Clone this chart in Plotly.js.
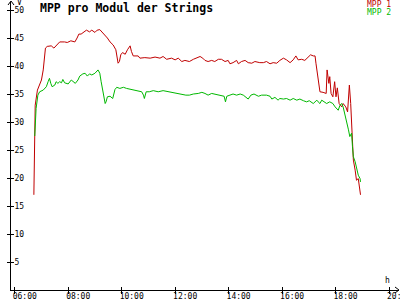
<!DOCTYPE html>
<html>
<head>
<meta charset="utf-8">
<script src="https://cdn.plot.ly/plotly-3.0.1.min.js"></script>
<style>html,body{margin:0;padding:0;background:#fff;}#chart{width:400px;height:300px;}</style>
</head>
<body>
<div id="chart"></div>
<script>
const DAY = "2024-06-01 ";
const titleText = "MPP pro Modul der Strings";
const seriesNames = ["MPP 1", "MPP 2"];
const xTickVals = ["06:00", "08:00", "10:00", "12:00", "14:00", "16:00", "18:00", "20:00"];
const yTickVals = [5, 10, 15, 20, 25, 30, 35, 40, 45, 50];

const mpp1Times = ["06:43","06:46","06:51","06:56","07:00","07:04","07:06","07:09","07:13","07:22","07:28","07:33","07:41","07:52","07:58","08:06","08:15","08:20","08:24","08:29","08:35","08:41","08:48","08:53","09:00","09:05","09:11","09:16","09:22","09:28","09:34","09:41","09:47","09:50","09:52","09:55","09:58","10:02","10:08","10:13","10:19","10:22","10:26","10:37","10:41","10:52","11:04","11:15","11:26","11:33","11:41","11:52","12:00","12:07","12:15","12:22","12:32","12:41","12:48","12:56","13:02","13:07","13:14","13:22","13:29","13:37","13:44","13:52","13:59","14:03","14:10","14:18","14:22","14:29","14:37","14:44","14:52","14:59","15:10","15:18","15:25","15:33","15:40","15:48","15:55","16:03","16:10","16:18","16:25","16:31","16:36","16:44","16:51","16:59","17:04","17:10","17:14","17:16","17:19","17:22","17:25","17:32","17:39","17:41","17:45","17:47","17:50","17:54","17:58","18:01","18:04","18:08","18:14","18:17","18:23","18:27","18:31","18:34","18:36","18:38","18:40","18:44","18:47","18:51","18:53","18:56"];
const mpp1Values = [17.0,33.0,35.7,36.9,37.5,39.3,41.1,43.2,43.5,43.6,43.2,43.6,44.3,44.3,44.2,44.5,44.3,45.0,45.7,45.7,46.1,46.4,46.1,46.4,46.0,46.4,46.5,46.1,45.5,45.0,44.3,43.75,42.9,41.7,40.5,40.8,42.0,42.4,42.1,42.9,43.6,42.6,41.8,41.8,41.4,41.5,41.4,41.6,41.4,41.7,41.2,41.4,41.1,41.4,40.8,41.0,40.8,41.2,41.4,41.7,41.4,41.0,40.8,41.0,40.8,41.2,41.2,40.8,41.0,40.4,40.6,41.0,40.4,40.8,41.0,40.6,40.5,40.8,40.6,40.6,40.8,40.4,40.6,40.5,41.0,41.4,41.1,40.6,41.1,41.8,41.1,41.2,41.0,41.6,42.0,41.8,41.8,40.5,39.0,36.9,35.4,35.3,35.1,39.3,36.9,38.1,35.1,34.5,37.2,34.5,36.1,33.3,32.7,33.3,32.7,31.8,36.6,33.3,29.8,26.2,23.2,21.4,19.6,19.9,18.4,17.0];

const mpp2Times = ["06:45","06:48","06:52","06:56","07:04","07:07","07:11","07:15","07:18","07:21","07:24","07:30","07:33","07:37","07:41","07:45","07:48","07:52","08:00","08:07","08:11","08:16","08:22","08:26","08:33","08:38","08:43","08:48","08:53","09:00","09:07","09:11","09:14","09:18","09:20","09:23","09:25","09:28","09:34","09:40","09:45","09:49","09:56","10:04","10:11","10:22","10:30","10:37","10:45","10:49","10:51","10:55","11:02","11:11","11:22","11:33","11:45","11:55","12:04","12:15","12:24","12:32","12:41","12:52","13:00","13:07","13:14","13:22","13:29","13:41","13:50","13:53","13:56","14:03","14:10","14:18","14:26","14:33","14:39","14:44","14:50","14:57","15:07","15:14","15:25","15:33","15:37","15:44","15:51","15:55","16:03","16:10","16:18","16:25","16:33","16:40","16:48","16:55","17:01","17:06","17:10","17:14","17:18","17:21","17:25","17:29","17:36","17:40","17:47","17:54","17:59","18:02","18:06","18:10","18:14","18:17","18:21","18:25","18:29","18:32","18:36","18:38","18:40","18:44","18:47","18:51","18:55","18:56"];
const mpp2Values = [27.5,32.4,34.8,35.4,35.7,36.0,36.3,37.2,37.8,36.9,36.3,36.6,37.2,36.9,37.2,37.0,37.6,37.0,36.8,37.5,37.2,36.9,37.5,38.2,38.6,38.7,38.2,38.6,38.4,38.7,39.3,38.7,37.2,35.4,33.9,33.3,33.6,34.5,34.6,34.2,35.8,36.2,36.0,36.2,36.0,35.8,35.6,35.6,35.4,34.8,34.2,35.4,35.4,35.6,35.4,35.6,35.4,35.2,35.1,35.0,34.8,34.8,35.0,35.1,35.3,35.1,34.8,35.1,35.0,34.8,34.6,33.6,34.6,34.8,35.0,34.8,35.0,34.8,34.5,34.1,34.8,35.0,34.6,34.8,34.8,34.6,34.1,34.4,33.9,34.2,34.1,34.2,33.9,34.2,33.9,34.1,33.8,33.6,33.8,33.6,33.3,33.6,33.9,33.6,33.3,33.9,33.6,33.3,33.6,33.3,32.7,32.4,32.1,33.0,33.3,32.7,31.5,30.1,28.6,27.4,28.0,25.6,23.8,22.9,22.0,20.5,19.9,19.3];

const colors = ["#c00000", "#00b800"];
const mono = "DejaVu Sans Mono, Liberation Mono, monospace";

const toDate = arr => arr.map(t => DAY + t);
const xRange = [DAY + "05:51:42", DAY + "20:22:24"];
const yRange = [0, 51.43];

const traces = [
  {x: toDate(mpp1Times), y: mpp1Values, name: seriesNames[0], type: "scatter", mode: "lines",
   line: {color: colors[0], width: 1, shape: "linear"}},
  {x: toDate(mpp2Times), y: mpp2Values, name: seriesNames[1], type: "scatter", mode: "lines",
   line: {color: colors[1], width: 1, shape: "linear"}},
  // empty helper traces so the tick-mark overlay axes are drawn
  {x: [], y: [], xaxis: "x2", yaxis: "y", type: "scatter", mode: "lines", hoverinfo: "skip"},
  {x: [], y: [], xaxis: "x", yaxis: "y2", type: "scatter", mode: "lines", hoverinfo: "skip"}
];

const tickFont = {family: mono, size: 8, color: "#000"};

const layout = {
  width: 400, height: 300,
  margin: {l: 11, r: 1, t: 2, b: 10, pad: 0},
  paper_bgcolor: "#fff", plot_bgcolor: "#fff",
  showlegend: false,
  title: {text: titleText, font: {family: mono, size: 11.5, weight: "bold", color: "#000"},
          xref: "container", yref: "container", x: 0.1, xanchor: "left", y: 0.975, yanchor: "middle"},
  xaxis: {type: "date", range: xRange, showgrid: false, zeroline: false,
          showline: true, linecolor: "#000", linewidth: 1,
          tickmode: "array", tickvals: toDate(xTickVals), ticktext: xTickVals,
          ticks: "outside", ticklen: 3, tickcolor: "#000", tickwidth: 1,
          ticklabelposition: "outside right", ticklabeloverflow: "allow",
          ticklabelshift: -3, ticklabelstandoff: -2,
          tickfont: tickFont, fixedrange: true},
  xaxis2: {type: "date", range: xRange, overlaying: "x", anchor: "y", side: "bottom",
           showgrid: false, zeroline: false, showline: false,
           tickmode: "array", tickvals: toDate(xTickVals), showticklabels: false,
           ticks: "inside", ticklen: 3, tickcolor: "#000", tickwidth: 1, fixedrange: true},
  yaxis: {range: yRange, showgrid: false, zeroline: false,
          showline: true, linecolor: "#000", linewidth: 1,
          tickmode: "array", tickvals: yTickVals,
          ticks: "outside", ticklen: 3, tickcolor: "#000", tickwidth: 1,
          ticklabelposition: "inside", ticklabeloverflow: "allow", ticklabelstandoff: 2,
          tickfont: tickFont, fixedrange: true},
  yaxis2: {range: yRange, overlaying: "y", anchor: "x", side: "left",
           showgrid: false, zeroline: false, showline: false,
           tickmode: "array", tickvals: yTickVals, showticklabels: false,
           ticks: "inside", ticklen: 3, tickcolor: "#000", tickwidth: 1, fixedrange: true},
  annotations: [
    {text: seriesNames[0], xref: "paper", yref: "paper", x: 1, y: 1, xanchor: "right", yanchor: "middle",
     xshift: -6, yshift: -2.5, showarrow: false, font: {family: mono, size: 8, color: colors[0]}},
    {text: seriesNames[1], xref: "paper", yref: "paper", x: 1, y: 1, xanchor: "right", yanchor: "middle",
     xshift: -6, yshift: -10.5, showarrow: false, font: {family: mono, size: 8, color: colors[1]}},
    {text: "V", xref: "paper", yref: "paper", x: 0, y: 1, xanchor: "left", yanchor: "middle",
     xshift: 4, yshift: 0, showarrow: false, font: {family: mono, size: 8, color: "#000"}},
    {text: "h", xref: "paper", yref: "paper", x: 1, y: 0, xanchor: "center", yanchor: "middle",
     xshift: -12, yshift: 9.5, showarrow: false, font: {family: mono, size: 8, color: "#000"}}
  ],
  shapes: [
    {type: "path", xref: "paper", yref: "paper", xsizemode: "pixel", ysizemode: "pixel",
     xanchor: 0, yanchor: 1, path: "M-3,-3 L0,1 L3,-3", line: {color: "#000", width: 1}},
    {type: "path", xref: "paper", yref: "paper", xsizemode: "pixel", ysizemode: "pixel",
     xanchor: 1, yanchor: 0, path: "M-4,3 L0,0 L-4,-3", line: {color: "#000", width: 1}}
  ]
};

Plotly.newPlot("chart", traces, layout, {staticPlot: true, displayModeBar: false});
</script>
</body>
</html>
